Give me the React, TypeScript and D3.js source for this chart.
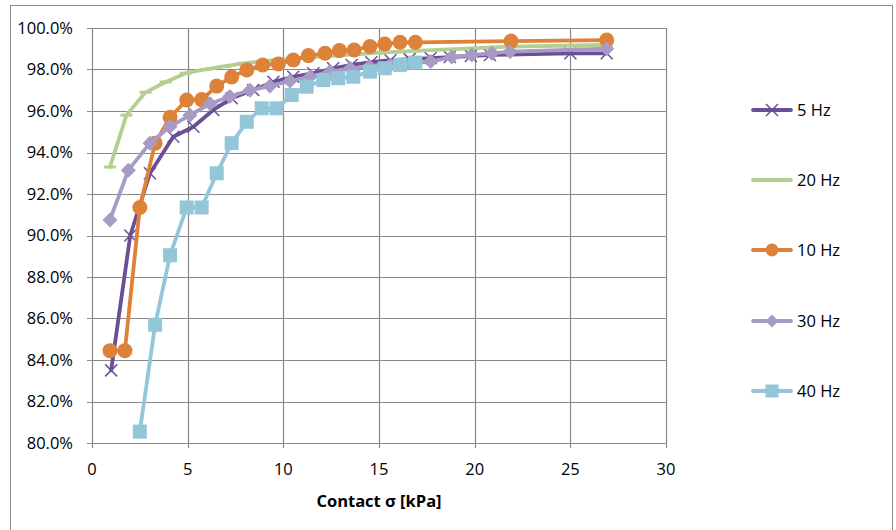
import React from "react";
import * as d3 from "d3";

const seriesNames = ["5 Hz", "20 Hz", "10 Hz", "30 Hz", "40 Hz"];

const x5 = [1.0, 2.0, 3.03, 4.25, 5.3, 6.34, 7.3, 8.43, 9.48, 10.52, 11.57, 12.6, 13.57, 14.6, 15.6, 16.6, 17.7, 18.7, 19.8, 20.8, 25.0, 26.9];
const v5 = [83.5, 90.0, 93.0, 94.76, 95.24, 96.05, 96.61, 97.01, 97.41, 97.65, 97.82, 98.06, 98.22, 98.35, 98.45, 98.5, 98.55, 98.6, 98.65, 98.7, 98.78, 98.78];

const x20 = [0.94, 1.8, 2.8, 3.85, 4.9, 5.9, 6.9, 7.9, 8.9, 9.9, 10.9, 11.9, 12.9, 13.9, 14.9, 15.9, 16.9, 21.9, 26.9];
const v20 = [93.3, 95.8, 96.9, 97.4, 97.82, 98.0, 98.15, 98.3, 98.4, 98.48, 98.55, 98.62, 98.68, 98.74, 98.8, 98.85, 98.9, 99.1, 99.18];

const x10 = [0.94, 1.72, 2.5, 3.3, 4.08, 4.95, 5.73, 6.52, 7.3, 8.09, 8.92, 9.74, 10.52, 11.31, 12.18, 12.93, 13.7, 14.53, 15.3, 16.1, 16.9, 21.9, 26.9];
const v10 = [84.45, 84.45, 91.35, 94.45, 95.7, 96.53, 96.55, 97.2, 97.64, 97.98, 98.22, 98.27, 98.46, 98.67, 98.78, 98.91, 98.94, 99.11, 99.23, 99.31, 99.31, 99.37, 99.42];

const x30 = [0.94, 1.9, 3.03, 4.08, 5.12, 6.17, 7.2, 8.26, 9.3, 10.35, 11.4, 12.44, 13.5, 14.5, 15.6, 16.6, 17.7, 18.8, 19.85, 20.9, 21.85, 26.9];
const v30 = [90.75, 93.15, 94.45, 95.25, 95.8, 96.35, 96.7, 97.0, 97.2, 97.45, 97.65, 97.9, 98.05, 98.15, 98.22, 98.3, 98.38, 98.6, 98.7, 98.78, 98.86, 99.0];

const x40 = [2.5, 3.3, 4.08, 4.95, 5.73, 6.52, 7.3, 8.09, 8.87, 9.65, 10.44, 11.22, 12.09, 12.87, 13.66, 14.53, 15.3, 16.1, 16.9];
const v40 = [80.55, 85.7, 89.05, 91.35, 91.35, 93.0, 94.45, 95.48, 96.13, 96.13, 96.77, 97.17, 97.49, 97.58, 97.65, 97.9, 98.06, 98.22, 98.33];

const xTicks = [0, 5, 10, 15, 20, 25, 30];
const yTicks = [80, 82, 84, 86, 88, 90, 92, 94, 96, 98, 100];
const xTitle = "Contact σ [kPa]";

const colors = ["#6B4F94", "#B4CF92", "#DE8139", "#A79BC6", "#93C6D8"];
const markers = ["x", "dash", "circle", "diamond", "square"];

const W = 896;
const H = 530;
const FONT = "'Open Sans', sans-serif";
const FS = 16.5;

function Marker({ type, color, cx, cy, legend }: { type: string; color: string; cx: number; cy: number; legend?: boolean }) {
  if (type === "x") {
    const s = 6;
    return (
      <g stroke={color} strokeWidth={1.5}>
        <line x1={cx - s} y1={cy - s} x2={cx + s} y2={cy + s} />
        <line x1={cx - s} y1={cy + s} x2={cx + s} y2={cy - s} />
      </g>
    );
  }
  if (type === "dash") {
    return <rect x={cx - 6} y={cy - 1.5} width={12} height={3} fill={color} />;
  }
  if (type === "circle") {
    return <circle cx={cx} cy={cy} r={legend ? 6.5 : 7.5} fill={color} />;
  }
  if (type === "diamond") {
    const s = legend ? 6.5 : 7.5;
    return <path d={`M${cx},${cy - s}L${cx + s},${cy}L${cx},${cy + s}L${cx - s},${cy}Z`} fill={color} />;
  }
  const s = legend ? 6.5 : 7;
  return <rect x={cx - s} y={cy - s} width={2 * s} height={2 * s} fill={color} />;
}

export default function App() {
  const x = d3.scaleLinear().domain([0, 30]).range([92, 666]);
  const y = d3.scaleLinear().domain([80, 100]).range([443, 28]);

  const series = [
    { xs: x5, vs: v5 },
    { xs: x20, vs: v20 },
    { xs: x10, vs: v10 },
    { xs: x30, vs: v30 },
    { xs: x40, vs: v40 },
  ];

  const line = d3
    .line<[number, number]>()
    .x((d) => x(d[0]))
    .y((d) => y(d[1]));

  const legendY = [110, 180, 250, 321, 391];

  return (
    <svg
      width={W}
      height={H}
      style={{ position: "absolute", left: 0, top: 0, display: "block", background: "#fff" }}
      fontFamily={FONT}
    >
      <rect x={10.5} y={5.5} width={882} height={530} fill="#fff" stroke="#8c8c8c" strokeWidth={1} />
      {yTicks.map((t) => (
        <line key={"gy" + t} x1={87} x2={666} y1={Math.round(y(t)) + 0.5} y2={Math.round(y(t)) + 0.5} stroke="#898989" strokeWidth={1.2} />
      ))}
      {xTicks.map((t) => (
        <line key={"gx" + t} x1={Math.round(x(t)) + 0.5} x2={Math.round(x(t)) + 0.5} y1={28} y2={448} stroke="#898989" strokeWidth={1.2} />
      ))}
      {yTicks.map((t) => (
        <text key={"ly" + t} x={73} y={y(t)} dy="0.36em" textAnchor="end" fontSize={FS} fill="#000">
          {d3.format(".1f")(t) + "%"}
        </text>
      ))}
      {xTicks.map((t) => (
        <text key={"lx" + t} x={x(t)} y={469} dy="0.36em" textAnchor="middle" fontSize={FS} fill="#000">
          {t}
        </text>
      ))}
      <text x={379} y={501} dy="0.36em" textAnchor="middle" fontSize={FS} fontWeight="bold" fill="#000">
        {xTitle}
      </text>
      {series.map((s, i) => {
        const pts = s.xs.map((xv, j) => [xv, s.vs[j]] as [number, number]);
        return (
          <g key={"s" + i}>
            <path d={line(pts) || ""} fill="none" stroke={colors[i]} strokeWidth={3.8} strokeLinejoin="round" strokeLinecap="round" />
            {pts.map((p, j) => (
              <Marker key={j} type={markers[i]} color={colors[i]} cx={x(p[0])} cy={y(p[1])} />
            ))}
          </g>
        );
      })}
      {seriesNames.map((n, i) => (
        <g key={"lg" + i}>
          <line x1={753} x2={791} y1={legendY[i]} y2={legendY[i]} stroke={colors[i]} strokeWidth={3.8} strokeLinecap="round" />
          {markers[i] !== "dash" && <Marker type={markers[i]} color={colors[i]} cx={772} cy={legendY[i]} legend />}
          <text x={797} y={legendY[i]} dy="0.36em" fontSize={FS} fill="#000">
            {n}
          </text>
        </g>
      ))}
    </svg>
  );
}
